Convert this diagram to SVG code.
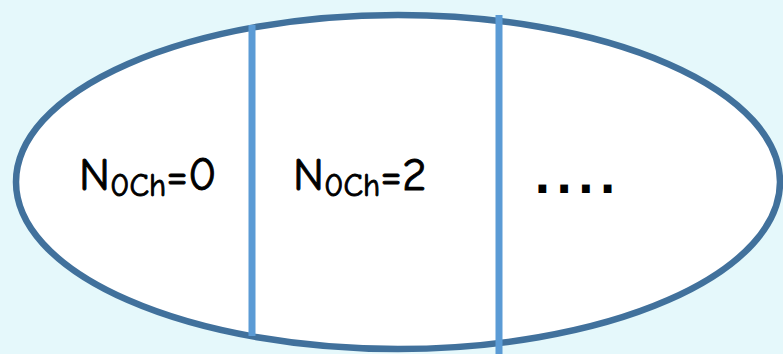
<svg xmlns="http://www.w3.org/2000/svg" width="783" height="354" viewBox="0 0 783 354">
<style>
.lbl{font-family:"Comic Sans MS","Comic Neue","DejaVu Sans",sans-serif;font-size:47px;fill:#000;stroke:#000;stroke-width:0.9}
.sub{font-size:32px}
.dots{font-family:"DejaVu Sans",sans-serif;font-size:44px;font-weight:bold;fill:#000}
.div{stroke:#5b9bd5;stroke-width:7;fill:none}
</style>
<rect width="783" height="354" fill="#e5f8fb"/>
<g id="set">
<ellipse cx="398" cy="182" rx="382" ry="167" fill="#ffffff" stroke="#41719c" stroke-width="6.5"/>
</g>
<g id="connectors">
<line class="div" x1="252" y1="25" x2="252" y2="336"/>
<line class="div" x1="499" y1="15" x2="499" y2="354"/>
</g>
<g id="cell0">
<text class="lbl" x="79" y="190">N<tspan class="sub" dy="6">0Ch</tspan><tspan dy="-6">=0</tspan></text>
</g>
<g id="cell2">
<text class="lbl" x="293" y="190">N<tspan class="sub" dy="6">0Ch</tspan><tspan dy="-6">=2</tspan></text>
</g>
<g id="cell3">
<text class="dots" x="534" y="193" letter-spacing="5">....</text>
</g>
</svg>
